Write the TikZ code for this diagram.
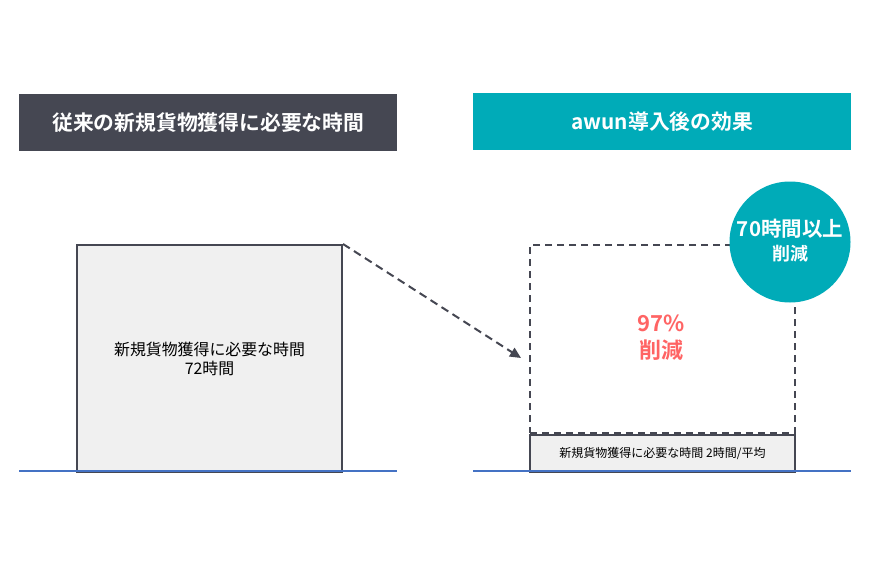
\documentclass[tikz,border=0pt]{standalone}
\usepackage{fontspec}
\setmainfont{Noto Sans CJK JP}[BoldFont={Noto Sans CJK JP Bold}]
\usetikzlibrary{arrows.meta}
\definecolor{darkhead}{HTML}{454752}
\definecolor{tealc}{HTML}{00ABB8}
\definecolor{boxfill}{HTML}{F0F0F0}
\definecolor{redtxt}{HTML}{FF6464}
\definecolor{baseblue}{HTML}{4472C4}
\begin{document}
\begin{tikzpicture}[x=1pt,y=-1pt,
  header/.style={minimum width=378pt,minimum height=57pt,anchor=north west,inner sep=0pt,text=white,font=\fontsize{20.8}{25}\selectfont\bfseries},
  barbox/.style={draw=darkhead,line width=2pt,fill=boxfill,anchor=north west,inner sep=0pt,align=center},
  baseline/.style={draw=baseblue,line width=1.5pt},
  circtxt/.style={text=white,inner sep=0pt},
  dashbox/.style={draw=darkhead,line width=2pt,dash pattern=on 7pt off 5pt,anchor=north west,inner sep=0pt,minimum width=265pt,minimum height=188pt}]
\useasboundingbox (0,0) rectangle (870,581);
% headers
\node[header,fill=darkhead] (h1) at (19,94) {従来の新規貨物獲得に必要な時間};
\node[header,fill=tealc] (h2) at (473,93) {awun導入後の効果};
% left bar
\node[barbox,minimum width=265pt,minimum height=227pt,font=\fontsize{15.9}{19}\selectfont] (lbar) at (76,244) {新規貨物獲得に必要な時間\\72時間};
% right dashed box
\node[dashbox] (dbox) at (529,244) {};
\node[text=redtxt,align=center,font=\fontsize{22}{27}\selectfont\bfseries] (pct) at (661,338) {97\%\\削減};
% right small bar
\node[barbox,minimum width=265pt,minimum height=37pt,font=\fontsize{12}{14}\selectfont] (rbar) at (529,434) {新規貨物獲得に必要な時間 2時間/平均};
% circle
\node[circle,fill=tealc,minimum size=121pt,inner sep=0pt] (circ) at (790,242) {};
\node[circtxt,font=\fontsize{20.5}{24}\selectfont\bfseries] (c1) at (790,229) {70時間以上};
\node[circtxt,font=\fontsize{18}{21}\selectfont\bfseries] (c2) at (790,254) {削減};
% baselines
\coordinate (b1l) at (19,471);
\coordinate (b1r) at (397,471);
\coordinate (b2l) at (473,471);
\coordinate (b2r) at (851,471);
\draw[baseline] (b1l) -- (b1r);
\draw[baseline] (b2l) -- (b2r);
% arrow
\coordinate (atip) at (521,358);
\draw[draw=darkhead,line width=2pt,dash pattern=on 8pt off 5pt,-{Triangle[length=11pt,width=10pt]}] (lbar.north east) -- (atip);
\end{tikzpicture}
\end{document}
